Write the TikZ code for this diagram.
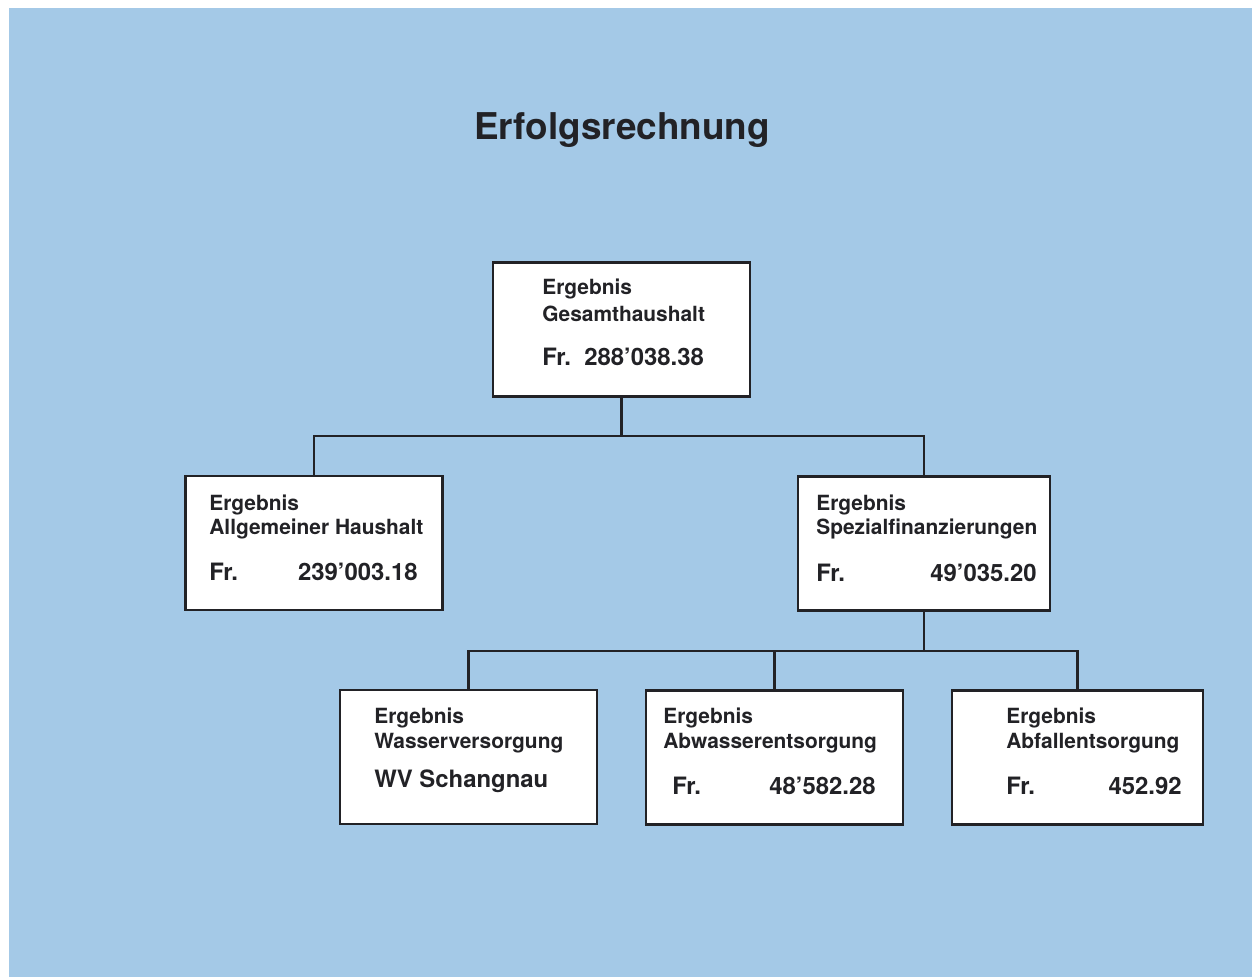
\documentclass[tikz,border=0pt]{standalone}
\usepackage{fontspec}
\setmainfont{TeX Gyre Heros}
\usetikzlibrary{positioning}

\definecolor{bgblue}{RGB}{164,201,231}
\definecolor{inkgray}{RGB}{34,34,38}

\tikzset{
  resbox/.style={draw=inkgray, fill=white, line width=1.2pt, minimum width=5.14cm, minimum height=2.68cm, inner sep=0pt},
  lbl/.style={anchor=west, inner sep=0pt, text=inkgray, font=\fontsize{11.9}{13}\selectfont\bfseries},
  amt/.style={anchor=west, inner sep=0pt, text=inkgray, font=\fontsize{13.6}{15}\selectfont\bfseries},
  amtr/.style={amt, anchor=east},
  link/.style={draw=inkgray, line width=1.2pt}
}

\begin{document}
\begin{tikzpicture}[x=0.02cm, y=-0.02cm]

    \useasboundingbox (0,0) rectangle (1256,978);
    \fill[bgblue] (9,8) rectangle (1252,977);

    \node (Title) [text=inkgray, font=\fontsize{21}{25}\selectfont\bfseries] at (622,130) {Erfolgsrechnung};

    \node (Gesamt) [resbox] at (621.5,329.5) {};
    \node (Allgemein) [resbox] at (314,543) {};
    \node (Spezial) [resbox, minimum width=5.04cm] at (924,543.5) {};
    \node (Wasser) [resbox] at (468.5,757) {};
    \node (Abwasser) [resbox] at (774.5,757.5) {};
    \node (Abfall) [resbox, minimum width=5.02cm] at (1077.5,757.5) {};

    \node (GesamtA) [lbl] at (542,289) {Ergebnis};
    \node (GesamtB) [lbl] at (542,314) {Gesamthaushalt};
    \node (GesamtFr) [amt] at (542,357) {Fr.\ \ 288'038.38};

    \node (AllgemeinA) [lbl] at (209,505) {Ergebnis};
    \node (AllgemeinB) [lbl] at (209,529) {Allgemeiner Haushalt};
    \node (AllgemeinFr) [amt] at (209,572) {Fr.};
    \node (AllgemeinSum) [amtr] at (418,572) {239'003.18};

    \node (SpezialA) [lbl] at (816,505) {Ergebnis};
    \node (SpezialB) [lbl] at (816,529) {Spezialfinanzierungen};
    \node (SpezialFr) [amt] at (816,573) {Fr.};
    \node (SpezialSum) [amtr] at (1037,573) {49'035.20};

    \node (WasserA) [lbl] at (374,718) {Ergebnis};
    \node (WasserB) [lbl] at (374,743) {Wasserversorgung};
    \node (WasserWV) [amt] at (374,781) {WV Schangnau};

    \node (AbwasserA) [lbl] at (663,718) {Ergebnis};
    \node (AbwasserB) [lbl] at (663,743) {Abwasserentsorgung};
    \node (AbwasserFr) [amt] at (672,786) {Fr.};
    \node (AbwasserSum) [amtr] at (876,786) {48'582.28};

    \node (AbfallA) [lbl] at (1006,718) {Ergebnis};
    \node (AbfallB) [lbl] at (1006,743) {Abfallentsorgung};
    \node (AbfallFr) [amt] at (1006,786) {Fr.};
    \node (AbfallSum) [amtr] at (1182,786) {452.92};

    \coordinate (JoinTop) at (621.5,436);
    \coordinate (JoinSpezial) at (924,651);

    \draw[link] (Gesamt.south) -- (JoinTop);
    \draw[link] (Allgemein.north) |- (JoinTop) -| (Spezial.north);
    \draw[link] (Spezial.south) -- (JoinSpezial);
    \draw[link] (Wasser.north) |- (JoinSpezial) -| (Abfall.north);
    \draw[link] (Abwasser.north) -- (Abwasser.north |- JoinSpezial);

\end{tikzpicture}
\end{document}
